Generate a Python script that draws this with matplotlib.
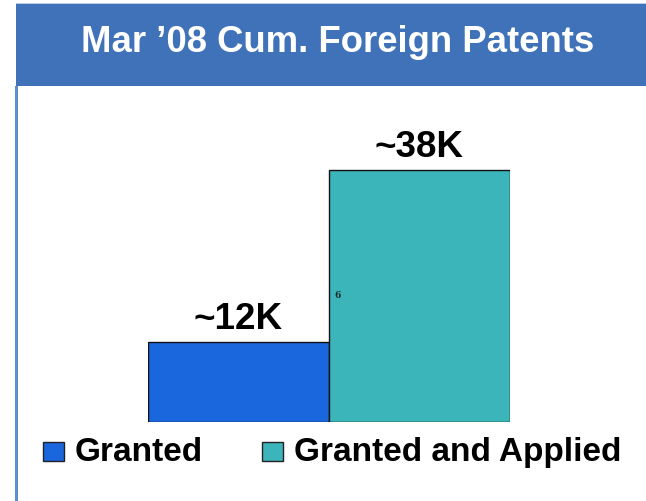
import matplotlib.pyplot as plt
from matplotlib.patches import Rectangle

plt.rcParams['font.family'] = ['Liberation Sans', 'DejaVu Sans']

title = "Mar \u201908 Cum. Foreign Patents"
categories = ['Granted', 'Granted and Applied']
values = [12, 38]
labels = ['~12K', '~38K']
colors = ['#1A66DD', '#3CB5BA']

W, H = 646, 501
fig = plt.figure(figsize=(W / 100, H / 100), dpi=100)

# title banner and left rule
fig.patches.append(Rectangle((16 / W, 1 - 86 / H), 1 - 16 / W, 82 / H,
                             transform=fig.transFigure, facecolor='#3F72B9',
                             edgecolor='none'))
fig.patches.append(Rectangle((16 / W, 1 - 4 / H), 1 - 16 / W, 1.5 / H,
                             transform=fig.transFigure, facecolor='#B9CCE8',
                             edgecolor='none'))
fig.patches.append(Rectangle((15 / W, 0), 2.5 / W, 1 - 86 / H,
                             transform=fig.transFigure, facecolor='#5F8DCF',
                             edgecolor='none'))
fig.text(338 / W, 1 - 52.5 / H, title, color='white', fontsize=26.3,
         fontweight='bold', ha='center', va='baseline')

# bar axes: bottom at px 422, 0..50 span
unit = (422 - 170) / 38.0
ax = fig.add_axes([148 / W, (H - 422) / H, (510 - 148) / W, 50 * unit / H])
bars = ax.bar(range(len(values)), values, width=1.0, color=colors,
              edgecolor='#111111', linewidth=1.0)
ax.set_xlim(-0.5, 1.5)
ax.set_ylim(0, 50)
ax.axis('off')

for i, (v, lab) in enumerate(zip(values, labels)):
    ax.annotate(lab, (i, v), xytext=(0, 9.5), textcoords='offset points',
                ha='center', va='baseline', fontsize=26.5, fontweight='bold')

ax.text(0.53, 19, '6', fontsize=6.5, fontweight='bold', family='DejaVu Serif',
        color='#1a2a2a', va='center', ha='left')

# legend, drawn by hand so both entries share a baseline
legend_x = [43, 262]
for x0, cat, col in zip(legend_x, categories, colors):
    fig.patches.append(Rectangle((x0 / W, 1 - 461 / H), 21 / W, 19 / H,
                                 transform=fig.transFigure, facecolor=col,
                                 edgecolor='#222222', linewidth=1.0))
    fig.text((x0 + 32) / W, 1 - 461 / H, cat, fontsize=24, fontweight='bold',
             ha='left', va='baseline')

fig.savefig('out.png', dpi=100)
